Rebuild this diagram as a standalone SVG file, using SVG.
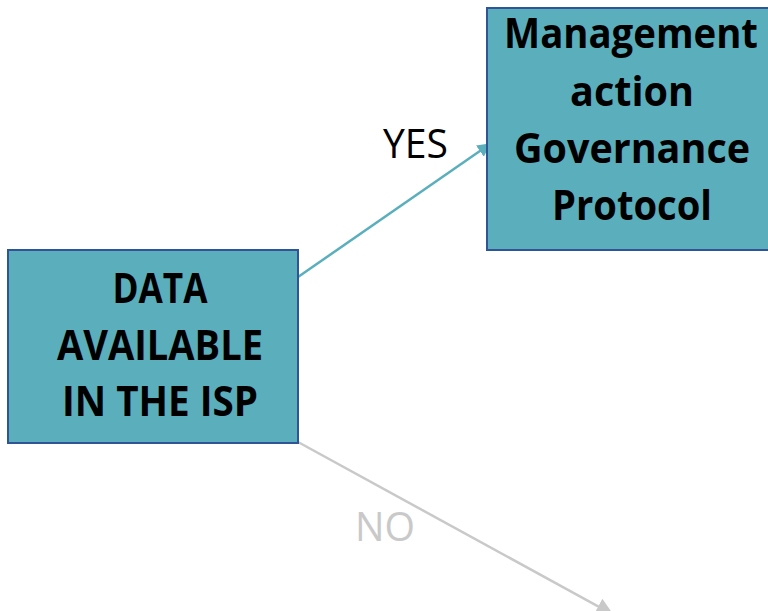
<svg xmlns="http://www.w3.org/2000/svg" width="768" height="611" viewBox="0 0 768 611">
<style>
.box{fill:#5BAFBC;stroke:#2F5597;stroke-width:2}
.lbl{font-family:"Open Sans","Liberation Sans",sans-serif;font-weight:bold;font-size:41px;fill:#000;text-anchor:middle}
.edge{font-family:"Open Sans","Liberation Sans",sans-serif;font-size:40px}
</style>
<defs>
<marker id="ay" viewBox="0 0 10 10" refX="9" refY="5" markerWidth="5.5" markerHeight="5.5" orient="auto" markerUnits="strokeWidth"><path d="M0,0 L10,5 L0,10 z" fill="#5BAFBC"/></marker>
<marker id="an" viewBox="0 0 10 10" refX="9" refY="5" markerWidth="7" markerHeight="7" orient="auto" markerUnits="strokeWidth"><path d="M0,0 L10,5 L0,10 z" fill="#C9C9C9"/></marker>
</defs>
<rect width="768" height="611" fill="#fff"/>
<g id="connectors">
<line x1="298" y1="277" x2="490" y2="144" stroke="#5BAFBC" stroke-width="2.5" marker-end="url(#ay)"/>
<text class="edge" x="383" y="158" fill="#000" textLength="65" lengthAdjust="spacingAndGlyphs">YES</text>
<line x1="298" y1="442" x2="612" y2="614" stroke="#C9C9C9" stroke-width="2.5" marker-end="url(#an)"/>
<text class="edge" x="355" y="541" fill="#C9C9C9" textLength="60" lengthAdjust="spacingAndGlyphs">NO</text>
</g>
<g id="node-data">
<rect class="box" x="8" y="250" width="290" height="193"/>
<text class="lbl" x="160" y="303" textLength="95" lengthAdjust="spacingAndGlyphs">DATA</text>
<text class="lbl" x="160" y="360" textLength="206" lengthAdjust="spacingAndGlyphs">AVAILABLE</text>
<text class="lbl" x="160" y="416" textLength="196" lengthAdjust="spacingAndGlyphs">IN THE ISP</text>
</g>
<g id="node-mgmt">
<rect class="box" x="487" y="8" width="290" height="242"/>
<text class="lbl" x="631" y="48" textLength="254" lengthAdjust="spacingAndGlyphs">Management</text>
<text class="lbl" x="632" y="106" textLength="124" lengthAdjust="spacingAndGlyphs">action</text>
<text class="lbl" x="632" y="163" textLength="236" lengthAdjust="spacingAndGlyphs">Governance</text>
<text class="lbl" x="632" y="220" textLength="160" lengthAdjust="spacingAndGlyphs">Protocol</text>
</g>
</svg>
